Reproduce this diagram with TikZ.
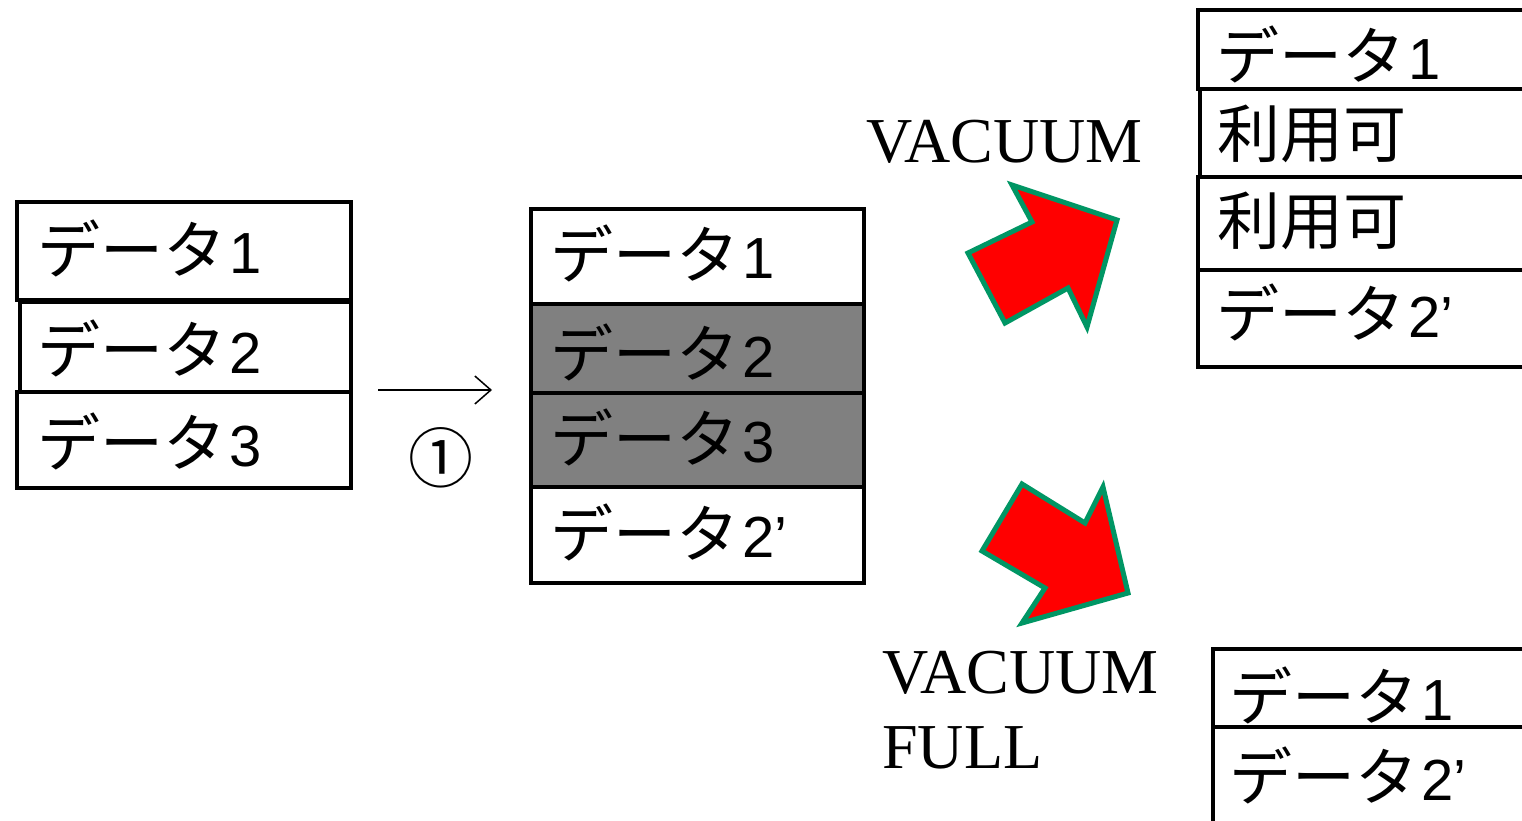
\documentclass[tikz,border=0pt]{standalone}
\usepackage{fontspec}
\setmainfont{Liberation Serif}
\newfontfamily\jpfont{Noto Sans CJK JP}
\newfontfamily\arfont{Liberation Sans}
\usetikzlibrary{arrows.meta}
\definecolor{arrowgreen}{RGB}{0,150,100}
\definecolor{oldgray}{RGB}{128,128,128}
\newcommand{\dt}[1]{{\jpfont データ}\hspace{3pt}{\arfont\fontsize{58}{66}\selectfont #1}}
\newcommand{\ok}{{\jpfont 利用可}}
\begin{document}
\begin{tikzpicture}[x=1pt,y=-1pt,
  box/.style={draw, line width=4pt, inner sep=0pt, anchor=north west},
  txt/.style={inner sep=0pt, anchor=base west, font=\fontsize{63}{72}\selectfont},
  vac/.style={inner sep=0pt, anchor=base west, font=\fontsize{64}{75}\selectfont},
  bigarrow/.style={fill=red, draw=arrowgreen, line width=5pt, line join=miter}]
\useasboundingbox (0,0) rectangle (1522,821);
\clip (0,0) rectangle (1522,821);
% left stack
\node[box, minimum width=334pt, minimum height=98pt] (L1) at (15,200) {};
\node[box, minimum width=331pt, minimum height=90pt] (L2) at (18,300) {};
\node[box, minimum width=334pt, minimum height=96pt] (L3) at (15,390) {};
\node[txt] (L1t) at (37,273) {\dt{1}};
\node[txt] (L2t) at (37,373) {\dt{2}};
\node[txt] (L3t) at (37,466) {\dt{3}};
% arrow 1
\coordinate (a1) at (378,390);
\coordinate (a2) at (492,390);
\draw[line width=1.5pt, -{Straight Barb[length=16pt,width=28pt]}] (a1) -- (a2);
\node[inner sep=0pt, anchor=base, font=\jpfont\fontsize{65}{72}\selectfont] (c1) at (441,482) {①};
% middle stack
\node[box, minimum width=333pt, minimum height=95pt] (M1) at (529,207) {};
\node[box, fill=oldgray, minimum width=333pt, minimum height=89pt] (M2) at (529,302) {};
\node[box, fill=oldgray, minimum width=333pt, minimum height=94pt] (M3) at (529,391) {};
\node[box, minimum width=333pt, minimum height=96pt] (M4) at (529,485) {};
\node[txt] (M1t) at (550,278) {\dt{1}};
\node[txt] (M2t) at (550,377) {\dt{2}};
\node[txt] (M3t) at (550,462) {\dt{3}};
\node[txt] (M4t) at (550,557) {\dt{2’}};
% top right stack
\node[box, minimum width=344pt, minimum height=79pt] (R1) at (1196,8) {};
\node[box, minimum width=342pt, minimum height=88pt] (R2) at (1198,87) {};
\node[box, minimum width=344pt, minimum height=93pt] (R3) at (1196,175) {};
\node[box, minimum width=344pt, minimum height=97pt] (R4) at (1196,268) {};
\node[txt] (R1t) at (1216,80) {\dt{1}};
\node[txt] (R2t) at (1217,158) {\ok};
\node[txt] (R3t) at (1217,244) {\ok};
\node[txt] (R4t) at (1216,337) {\dt{2’}};
% bottom right stack
\node[box, minimum width=329pt, minimum height=78pt] (B1) at (1211,647) {};
\node[box, minimum width=329pt, minimum height=114pt] (B2) at (1211,725) {};
\node[txt] (B1t) at (1229,720) {\dt{1}};
\node[txt] (B2t) at (1229,800) {\dt{2’}};
% labels
\node[vac] (V1) at (866,163) {VACUUM};
\node[vac] (V2) at (882,693) {VACUUM};
\node[vac] (V3) at (882,768) {FULL};
% big arrows
\draw[bigarrow] (968,253) -- (1032,222) -- (1012,185) -- (1117,220) -- (1087,327) -- (1068,288) -- (1005,323) -- cycle;
\draw[bigarrow] (1022,484) -- (1085,523) -- (1103,487) -- (1128,593) -- (1022,623) -- (1045,588) -- (982,551) -- cycle;
\end{tikzpicture}
\end{document}
